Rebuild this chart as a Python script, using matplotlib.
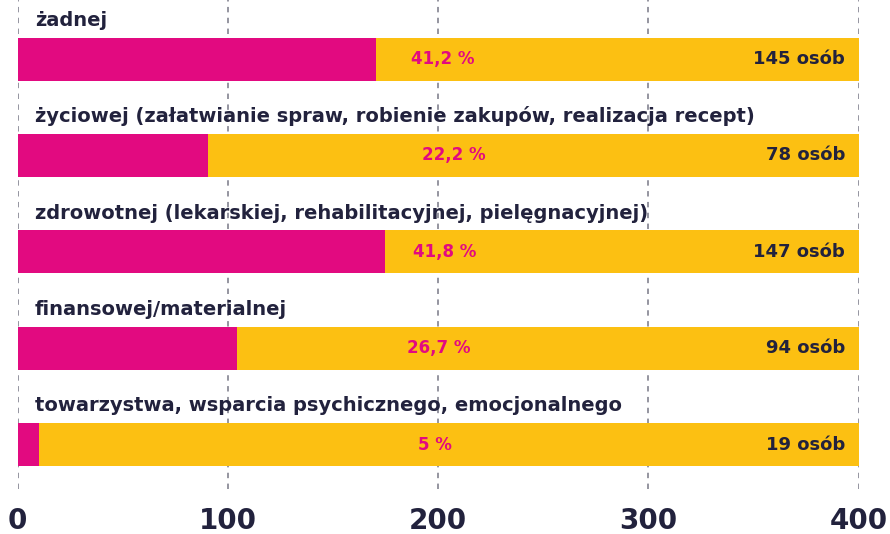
import matplotlib
matplotlib.use("Agg")
import matplotlib.pyplot as plt

# kategorie pomocy
categories = [
    "żadnej",
    "życiowej (załatwianie spraw, robienie zakupów, realizacja recept)",
    "zdrowotnej (lekarskiej, rehabilitacyjnej, pielęgnacyjnej)",
    "finansowej/materialnej",
    "towarzystwa, wsparcia psychicznego, emocjonalnego",
]
persons = [145, 78, 147, 94, 19]
percent_labels = ["41,2 %", "22,2 %", "41,8 %", "26,7 %", "5 %"]
pink_len = [170.5, 90.6, 174.8, 104.4, 10.2]
full_len = 400
xticks = [0, 100, 200, 300, 400]

# polozenie etykiet procentowych (os x)
pct_x = [202.3, 207.6, 203.3, 200.4, 198.3]

PINK = "#e20a80"
YELLOW = "#fcc012"
NAVY = "#22223d"
GRID = "#8c8c99"

plt.rcParams['font.family'] = ['DejaVu Sans']

fig = plt.figure(figsize=(8.9, 5.34), dpi=100)
ax = fig.add_axes([17.5 / 890, 45 / 534, 841.2 / 890, 489 / 534])

bar_h = 0.446
for i in range(len(categories)):
    ax.barh(i, full_len, height=bar_h, color=YELLOW, left=0, zorder=2)
    ax.barh(i, pink_len[i], height=bar_h, color=PINK, left=0, zorder=3)
    ax.text(8.3, i - 0.345, categories[i], fontsize=14, fontweight='bold',
            color=NAVY, ha='left', va='baseline', zorder=4)
    ax.text(pct_x[i], i, percent_labels[i], fontsize=12, fontweight='bold',
            color=PINK, ha='center', va='center', zorder=4)
    ax.text(393.5, i, f"{persons[i]} osób", fontsize=13, fontweight='bold',
            color=NAVY, ha='right', va='center', zorder=4)

for xv in xticks:
    ax.axvline(xv, color=GRID, linestyle=(0, (3, 3)), linewidth=1.3, zorder=1)

ax.set_xlim(0, 400)
ax.set_ylim(4.46, -0.612)
ax.set_xticks(xticks)
ax.set_xticklabels([str(v) for v in xticks], fontsize=20, fontweight='bold', color=NAVY)
ax.tick_params(axis='x', length=0, pad=13)
ax.set_yticks([])
for s in ax.spines.values():
    s.set_visible(False)

fig.savefig("out.png", dpi=100)
